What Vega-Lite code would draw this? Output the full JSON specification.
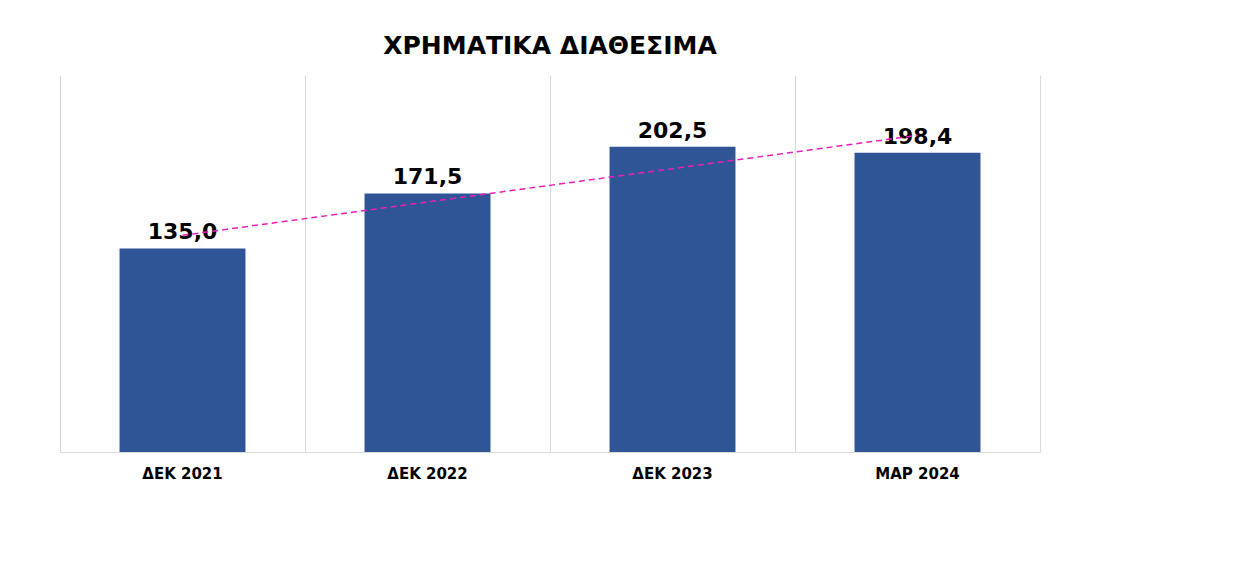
{
  "$schema": "https://vega.github.io/schema/vega-lite/v6.json",
  "width": 980,
  "height": 377,
  "autosize": "none",
  "padding": {"left": 60, "top": 75, "right": 218, "bottom": 118},
  "background": "white",
  "config": {
    "view": {"stroke": null},
    "locale": {"number": {"decimal": ",", "thousands": ".", "grouping": [3], "currency": ["", " €"]}}
  },
  "title": {
    "text": "ΧΡΗΜΑΤΙΚΑ ΔΙΑΘΕΣΙΜΑ",
    "font": "DejaVu Sans",
    "fontSize": 25,
    "fontWeight": "bold",
    "color": "#000000",
    "anchor": "middle",
    "offset": 16
  },
  "data": {
    "values": [
      {"period": "ΔΕΚ 2021", "value": 135.0, "trend": 143.7},
      {"period": "ΔΕΚ 2022", "value": 171.5, "trend": 165.8},
      {"period": "ΔΕΚ 2023", "value": 202.5, "trend": 187.9},
      {"period": "ΜΑΡ 2024", "value": 198.4, "trend": 210.0}
    ]
  },
  "encoding": {
    "x": {
      "field": "period",
      "type": "nominal",
      "sort": null,
      "scale": {"paddingInner": 0, "paddingOuter": 0},
      "axis": {
        "title": null,
        "labelAngle": 0,
        "labelFont": "DejaVu Sans",
        "labelFontSize": 15,
        "labelFontWeight": "bold",
        "labelColor": "#000000",
        "labelPadding": 14,
        "ticks": false,
        "domainColor": "#d9d9d9",
        "grid": true,
        "gridColor": "#d9d9d9",
        "bandPosition": 0
      }
    }
  },
  "layer": [
    {
      "mark": {"type": "bar", "color": "#2F5597", "width": {"band": 0.514}},
      "encoding": {
        "y": {
          "field": "value",
          "type": "quantitative",
          "scale": {"domain": [0, 250], "nice": false},
          "axis": {
            "orient": "right",
            "title": null,
            "labels": false,
            "ticks": false,
            "grid": false,
            "domainColor": "#d9d9d9"
          }
        }
      }
    },
    {
      "mark": {
        "type": "text",
        "baseline": "alphabetic",
        "dy": -9,
        "font": "DejaVu Sans",
        "fontSize": 22,
        "fontWeight": "bold",
        "color": "#000000"
      },
      "encoding": {
        "y": {"field": "value", "type": "quantitative"},
        "text": {"field": "value", "type": "quantitative", "format": ".1f"}
      }
    },
    {
      "mark": {"type": "line", "color": "#E91EBA", "strokeWidth": 1.5, "strokeDash": [6, 4]},
      "encoding": {
        "y": {"field": "trend", "type": "quantitative"}
      }
    }
  ]
}
